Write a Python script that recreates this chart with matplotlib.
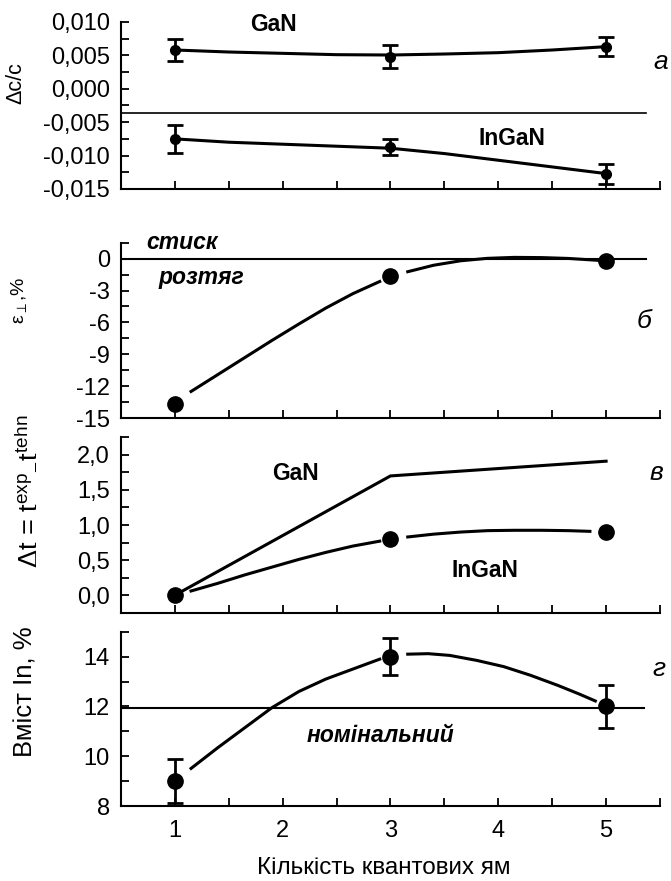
import numpy as np
import matplotlib.pyplot as plt

plt.rcParams['font.family'] = ['Liberation Sans', 'DejaVu Sans']
plt.rcParams['mathtext.fontset'] = 'custom'
plt.rcParams['mathtext.rm'] = 'Liberation Sans'
plt.rcParams['mathtext.it'] = 'Liberation Sans:italic'

# number of quantum wells
wells = [1, 3, 5]

# panel a: delta c / c with error bars and fitted curves
gan_dc = [0.0058, 0.0048, 0.0063]
gan_dc_err = [0.0016, 0.0017, 0.0014]
ingan_dc = [-0.0075, -0.0087, -0.0127]
ingan_dc_err = [0.0021, 0.0012, 0.0015]
dc_fit_x = [1, 1.5, 2, 2.5, 3, 3.5, 4, 4.5, 5]
gan_dc_fit = [0.0058, 0.0055, 0.0053, 0.0051, 0.00505, 0.0052, 0.0054, 0.0058, 0.0063]
ingan_dc_fit = [-0.0075, -0.0080, -0.0083, -0.0086, -0.0089, -0.0097, -0.0107, -0.0117, -0.0127]
dc_ref = -0.0037
dc_ticks = [0.010, 0.005, 0.000, -0.005, -0.010, -0.015]
dc_labels = ['0,010', '0,005', '0,000', '-0,005', '-0,010', '-0,015']

# panel b: strain
strain = [-13.7, -1.67, -0.19]
strain_fit_x = [1.15, 1.4, 1.65, 1.9, 2.15, 2.4, 2.65, 2.9, np.nan,
                3.16, 3.4, 3.65, 3.9, 4.15, 4.4, 4.65, 4.93]
strain_fit = [-12.5, -10.9, -9.3, -7.7, -6.15, -4.65, -3.3, -2.15, np.nan,
              -1.23, -0.62, -0.2, 0.03, 0.12, 0.1, 0.02, -0.16]
strain_ticks = [0, -3, -6, -9, -12, -15]
strain_labels = ['0', '-3', '-6', '-9', '-12', '-15']

# panel c: delta t
gan_dt = [0.0, 1.70, 1.91]
ingan_dt = [0.0, 0.80, 0.90]
ingan_dt_fit_x = [1.15, 1.4, 1.65, 1.9, 2.15, 2.4, 2.65, 2.9, np.nan,
                  3.16, 3.4, 3.65, 3.9, 4.15, 4.4, 4.65, 4.85]
ingan_dt_fit = [0.06, 0.17, 0.29, 0.40, 0.51, 0.61, 0.70, 0.77, np.nan,
                0.83, 0.87, 0.90, 0.92, 0.925, 0.925, 0.92, 0.91]
dt_ticks = [0.0, 0.5, 1.0, 1.5, 2.0]
dt_labels = ['0,0', '0,5', '1,0', '1,5', '2,0']

# panel d: In content
indium = [9.0, 14.0, 12.0]
indium_err = [0.87, 0.75, 0.87]
indium_fit_x = [1.15, 1.4, 1.65, 1.9, 2.15, 2.4, 2.65, 2.9, np.nan,
                3.16, 3.35, 3.55, 3.8, 4.05, 4.3, 4.55, 4.75, 4.9]
indium_fit = [9.51, 10.35, 11.15, 11.95, 12.6, 13.1, 13.5, 13.9, np.nan,
              14.1, 14.12, 14.05, 13.85, 13.6, 13.25, 12.85, 12.5, 12.22]
indium_nominal = 11.92
indium_ticks = [8, 10, 12, 14]
indium_labels = ['8', '10', '12', '14']

fig = plt.figure(figsize=(6.71, 8.81), dpi=100)
left, width = 0.1803, 0.8033
ax1 = fig.add_axes([left, 0.7855, width, 0.1896])
ax2 = fig.add_axes([left, 0.5255, width, 0.1990])
ax3 = fig.add_axes([left, 0.3045, width, 0.1991])
ax4 = fig.add_axes([left, 0.0851, width, 0.1978])

tick_fs = 17
for ax in (ax1, ax2, ax3, ax4):
    ax.spines['top'].set_visible(False)
    ax.spines['right'].set_visible(False)
    ax.spines['left'].set_linewidth(1.5)
    ax.spines['bottom'].set_linewidth(1.5)
    ax.set_xlim(0.5, 5.5)
    ax.set_xticks([1, 2, 3, 4, 5])
    ax.set_xticks([1.5, 2.5, 3.5, 4.5, 5.5], minor=True)
    ax.tick_params(which='both', direction='in', length=6, width=1.3, labelsize=tick_fs)
    ax.tick_params(axis='y', pad=8)
    ax.tick_params(axis='x', pad=10)
    ax.set_facecolor('none')
for ax in (ax1, ax2, ax3):
    ax.tick_params(axis='x', labelbottom=False)

# а
ax1.plot(dc_fit_x, gan_dc_fit, color='k', lw=2.2)
ax1.plot(dc_fit_x, ingan_dc_fit, color='k', lw=2.2)
ax1.errorbar(wells, gan_dc, yerr=gan_dc_err, fmt='o', color='k', ms=7,
             capsize=6, elinewidth=2, capthick=2)
ax1.errorbar(wells, ingan_dc, yerr=ingan_dc_err, fmt='o', color='k', ms=7,
             capsize=6, elinewidth=2, capthick=2)
ax1.plot([0.5, 5.37], [dc_ref, dc_ref], color='k', lw=1.2)
ax1.set_ylim(-0.015, 0.010)
ax1.set_yticks(dc_ticks)
ax1.set_yticklabels(dc_labels)
ax1.set_yticks([0.0075, 0.0025, -0.0025, -0.0075, -0.0125], minor=True)
ax1.set_ylabel('Δc/c', fontsize=15.5)
ax1.yaxis.set_label_coords(-0.175, 0.635)
ax1.text(1.91, 0.0096, 'GaN', fontsize=16.5, fontweight='bold', ha='center', va='center')
ax1.text(4.13, -0.0074, 'InGaN', fontsize=16.5, fontweight='bold', ha='center', va='center')
ax1.text(5.51, 0.0040, 'а', fontsize=19, style='italic', ha='center', va='center', clip_on=False)

# б
ax2.plot([0.5, 5.37], [0, 0], color='k', lw=1.5)
ax2.plot(strain_fit_x, strain_fit, color='k', lw=2.2)
ax2.plot(wells, strain, 'o', color='k', ms=11)
ax2.set_ylim(-15, 1.5)
ax2.set_yticks(strain_ticks)
ax2.set_yticklabels(strain_labels)
ax2.set_yticks([1.5, -1.5, -4.5, -7.5, -10.5, -13.5], minor=True)
ax2.set_ylabel(r'ε$_{\perp}$,%', fontsize=14)
ax2.yaxis.set_label_coords(-0.17, 0.673)
ax2.text(1.07, 1.5, 'стиск', fontsize=16.5, fontweight='bold', style='italic', ha='center', va='center')
ax2.text(1.25, -1.8, 'розтяг', fontsize=16.5, fontweight='bold', style='italic', ha='center', va='center')
ax2.text(5.35, -5.9, 'б', fontsize=19, style='italic', ha='center', va='center', clip_on=False)

# в
ax3.plot(wells, gan_dt, color='k', lw=2.2)
ax3.plot(ingan_dt_fit_x, ingan_dt_fit, color='k', lw=2.2)
ax3.plot(wells, ingan_dt, 'o', color='k', ms=11)
ax3.set_ylim(-0.25, 2.25)
ax3.set_yticks(dt_ticks)
ax3.set_yticklabels(dt_labels)
ax3.set_yticks([-0.25, 0.25, 0.75, 1.25, 1.75, 2.25], minor=True)
ax3.set_ylabel(r'$\Delta$t = t$^{\rm exp}$$_{-}$t$^{\rm tehn}$', fontsize=19.5)
ax3.yaxis.set_label_coords(-0.15, 0.69)
ax3.text(2.12, 1.74, 'GaN', fontsize=16.5, fontweight='bold', ha='center', va='center')
ax3.text(3.88, 0.35, 'InGaN', fontsize=16.5, fontweight='bold', ha='center', va='center')
ax3.text(5.47, 1.74, 'в', fontsize=19, style='italic', ha='center', va='center', clip_on=False)

# г
ax4.plot([0.5, 5.35], [indium_nominal, indium_nominal], color='k', lw=1.5)
ax4.plot(indium_fit_x, indium_fit, color='k', lw=2.2)
ax4.errorbar(wells, indium, yerr=indium_err, fmt='o', color='k', ms=11,
             capsize=6, elinewidth=2, capthick=2)
ax4.set_ylim(8, 15)
ax4.set_yticks(indium_ticks)
ax4.set_yticklabels(indium_labels)
ax4.set_yticks([9, 11, 13, 15], minor=True)
ax4.set_xticklabels(['1', '2', '3', '4', '5'])
ax4.set_ylabel('Вміст In, %', fontsize=18.5)
ax4.yaxis.set_label_coords(-0.155, 0.654)
ax4.text(2.91, 10.84, 'номінальний', fontsize=16.5, fontweight='bold', style='italic', ha='center', va='center')
ax4.text(5.49, 13.52, 'г', fontsize=19, style='italic', ha='center', va='center', clip_on=False)

fig.text(384 / 671, 1 - 868 / 881, 'Кількість квантових ям', fontsize=17.5, ha='center', va='center')

fig.savefig('out.png', dpi=100)
